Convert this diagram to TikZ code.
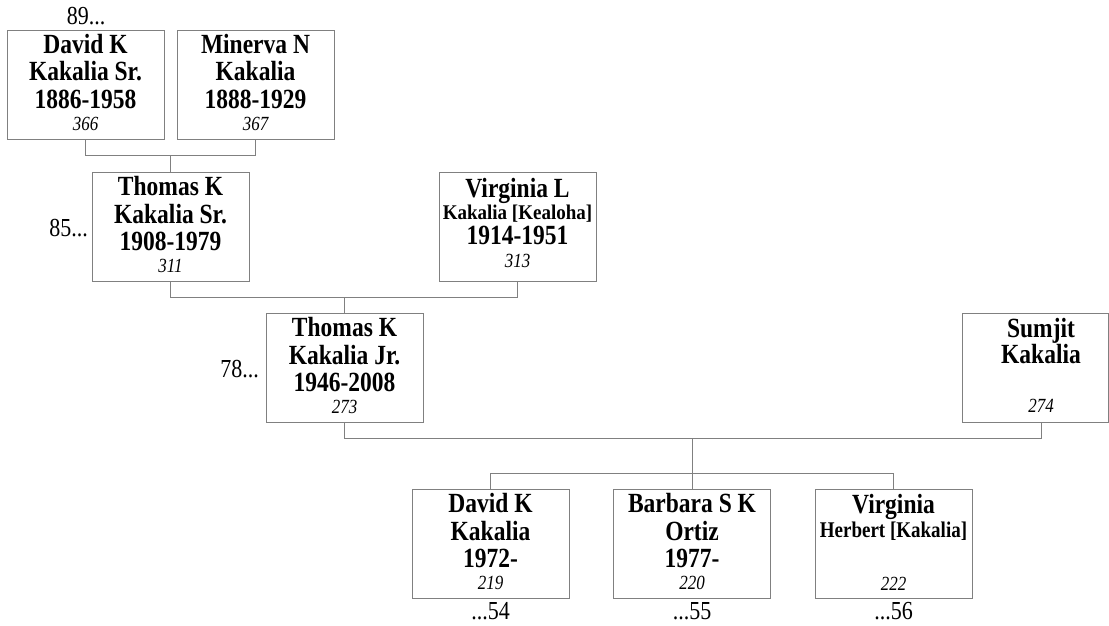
\documentclass[tikz,border=0pt]{standalone}
\usepackage{fontspec}
\usepackage{graphicx}
\setmainfont{Liberation Serif}
\usetikzlibrary{calc}
\definecolor{ln}{RGB}{128,128,128}
\newcommand\tallbox[1]{\scalebox{1}[1.18]{#1}}
\tikzset{
 card/.style={draw=ln, line width=0.8pt, anchor=north, minimum width=157pt, minimum height=109pt, inner sep=0pt},
 big/.style={anchor=base, inner sep=0pt, font=\fontsize{23.5}{28}\selectfont\bfseries},
 sml/.style={anchor=base, inner sep=0pt, font=\fontsize{19}{22}\selectfont\bfseries},
 num/.style={anchor=base, inner sep=0pt, font=\fontsize{17}{20}\selectfont\itshape},
 lab/.style={anchor=base, inner sep=0pt, font=\fontsize{22}{26}\selectfont},
 conn/.style={draw=ln, line width=0.8pt},
}
\newcommand\stdcard[7]{%
 \node[card] (#1) at (#2,#3) {};
 \node[big] (#1-a) at ([yshift=-23.5pt]#1.north) {\tallbox{#4}};
 \node[big] (#1-b) at ([yshift=-51pt]#1.north) {\tallbox{#5}};
 \node[big] (#1-c) at ([yshift=-78pt]#1.north) {\tallbox{#6}};
 \node[num] (#1-n) at ([yshift=-100pt]#1.north) {\tallbox{#7}};
}
\begin{document}
\begin{tikzpicture}[x=1pt,y=-1pt]
\path[fill=white] (0,0) rectangle (1109,626);
\useasboundingbox (0,0) rectangle (1109,626);
% cards
\stdcard{ds}{85.5}{30}{David K}{Kakalia Sr.}{1886-1958}{366}
\stdcard{mn}{255.5}{30}{Minerva N}{Kakalia}{1888-1929}{367}
\stdcard{ts}{170.5}{172}{Thomas K}{Kakalia Sr.}{1908-1979}{311}
\node[card] (vl) at (517.5,172) {};
\node[big] (vl-a) at ([yshift=-25pt]vl.north) {\tallbox{Virginia L}};
\node[sml] (vl-b) at ([yshift=-47.5pt]vl.north) {\scalebox{1}[1.1]{Kakalia [Kealoha]}};
\node[big] (vl-c) at ([yshift=-72pt]vl.north) {\tallbox{1914-1951}};
\node[num] (vl-n) at ([yshift=-95pt]vl.north) {\tallbox{313}};
\stdcard{tj}{344.5}{313}{Thomas K}{Kakalia Jr.}{1946-2008}{273}
\node[card, draw=none] (sj) at (1041,313) {};
\coordinate (rim) at (1108,0);
\draw[conn] (sj.north west) -- (sj.north west -| rim) -- (sj.south west -| rim) -- (sj.south west) -- cycle;
\node[big] (sj-a) at ([yshift=-24pt]sj.north) {\tallbox{Sumjit}};
\node[big] (sj-b) at ([yshift=-50pt]sj.north) {\tallbox{Kakalia}};
\node[num] (sj-n) at ([yshift=-99pt]sj.north) {\tallbox{274}};
\stdcard{dk}{490.5}{489}{David K}{Kakalia}{1972-}{219}
\stdcard{bb}{692}{489}{Barbara S K}{Ortiz}{1977-}{220}
\node[card] (vc) at (893.5,489) {};
\node[big] (vc-a) at ([yshift=-24pt]vc.north) {\tallbox{Virginia}};
\node[sml] (vc-b) at ([yshift=-48pt]vc.north) {\tallbox{Herbert [Kakalia]}};
\node[num] (vc-n) at ([yshift=-101pt]vc.north) {\tallbox{222}};
% connector levels
\coordinate (y1) at (0,155);
\coordinate (y2) at (0,297);
\coordinate (y3) at (0,438);
\coordinate (y4) at (0,473);
\coordinate (y5) at (0,619);
\draw[conn] (ds.south) -- (ds.south |- y1) -- (mn.south |- y1) -- (mn.south);
\draw[conn] (ts.north |- y1) -- (ts.north);
\draw[conn] (ts.south) -- (ts.south |- y2) -- (vl.south |- y2) -- (vl.south);
\draw[conn] (tj.north |- y2) -- (tj.north);
\draw[conn] (tj.south) -- (tj.south |- y3) -- (sj.south |- y3) -- (sj.south);
\draw[conn] (bb.north |- y3) -- (bb.north |- y4);
\draw[conn] (dk.north) -- (dk.north |- y4) -- (vc.north |- y4) -- (vc.north);
\draw[conn] (bb.north |- y4) -- (bb.north);
% labels
\node[lab] (l89) at (86,25) {\tallbox{89...}};
\node[lab, anchor=base east] (l85) at (88,236) {\tallbox{85...}};
\node[lab, anchor=base east] (l78) at (259,377) {\tallbox{78...}};
\node[lab] (l54) at (dk.south |- y5) {\tallbox{...54}};
\node[lab] (l55) at (bb.south |- y5) {\tallbox{...55}};
\node[lab] (l56) at (vc.south |- y5) {\tallbox{...56}};
\end{tikzpicture}
\end{document}
